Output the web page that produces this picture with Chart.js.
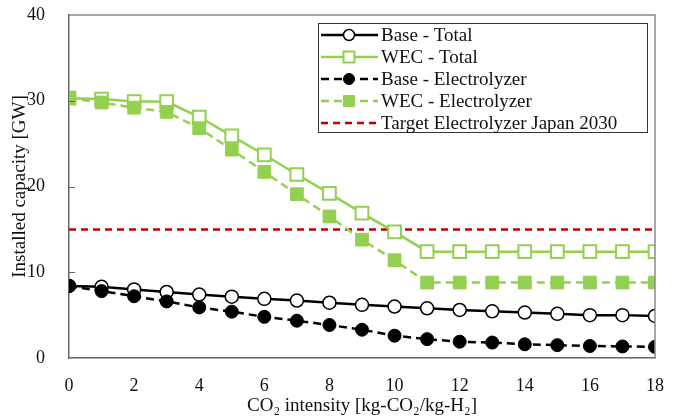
<!DOCTYPE html>
<html>
<head>
<meta charset="utf-8">
<script src="https://cdn.jsdelivr.net/npm/chart.js@4/dist/chart.umd.min.js"></script>
<style>
  body { margin: 0; background: #fff; }
  #wrap { width: 678px; height: 419px; }
</style>
</head>
<body>
<div id="wrap"><canvas id="capChart"></canvas></div>
<script>
// CO2 intensity [kg-CO2/kg-H2]
const intensity = [0, 1, 2, 3, 4, 5, 6, 7, 8, 9, 10, 11, 12, 13, 14, 15, 16, 17, 18];
const baseTotal = [8.4, 8.3, 8.0, 7.7, 7.4, 7.15, 6.9, 6.7, 6.45, 6.2, 6.0, 5.8, 5.6, 5.45, 5.3, 5.15, 5.0, 5.0, 4.9];
const wecTotal = [30.3, 30.2, 29.9, 29.9, 28.1, 25.9, 23.7, 21.4, 19.2, 16.9, 14.7, 12.4, 12.4, 12.4, 12.4, 12.4, 12.4, 12.4, 12.4];
const baseElec = [8.4, 7.8, 7.2, 6.6, 5.9, 5.4, 4.8, 4.35, 3.85, 3.3, 2.6, 2.2, 1.9, 1.8, 1.6, 1.5, 1.4, 1.35, 1.3];
const wecElec = [30.3, 29.8, 29.2, 28.7, 26.8, 24.3, 21.7, 19.1, 16.5, 13.8, 11.4, 8.8, 8.8, 8.8, 8.8, 8.8, 8.8, 8.8, 8.8];
const targetX = [0, 18];
const targetY = [15, 15];

const green = '#92D050';
const serif = '"Liberation Serif", "Times New Roman", serif';

function pts(xs, ys) {
    return xs.map((x, i) => ({ x: x, y: ys[i] }));
}

// frame, inner ticks and the boxed legend
const decor = {
    id: 'decor',
    afterDraw(chart) {
        const ctx = chart.ctx;
        const a = chart.chartArea;
        ctx.save();
        ctx.strokeStyle = '#8a8a8a';
        ctx.lineWidth = 1.5;
        ctx.beginPath();
        ctx.moveTo(a.left, a.top);
        ctx.lineTo(a.right, a.top);
        ctx.lineTo(a.right, a.bottom);
        ctx.stroke();

        const ys = chart.scales.y;
        ctx.strokeStyle = '#666';
        ctx.lineWidth = 1;
        [10, 20, 30].forEach(v => {
            const py = Math.round(ys.getPixelForValue(v)) + 0.5;
            ctx.beginPath();
            ctx.moveTo(a.left, py);
            ctx.lineTo(a.left + 6, py);
            ctx.stroke();
        });

        // legend
        const bx = 318, by = 23, bw = 329, bh = 109;
        ctx.fillStyle = '#fff';
        ctx.fillRect(bx, by, bw, bh);
        ctx.strokeStyle = '#333';
        ctx.lineWidth = 1;
        ctx.strokeRect(bx + 0.5, by + 0.5, bw, bh);
        ctx.font = '19px ' + serif;
        ctx.textBaseline = 'middle';
        chart.data.datasets.forEach((ds, i) => {
            const y = by + 12 + i * 22;
            ctx.strokeStyle = ds.borderColor;
            ctx.lineWidth = ds.borderWidth;
            ctx.setLineDash(ds.borderDash || []);
            ctx.beginPath();
            ctx.moveTo(bx + 3, y);
            ctx.lineTo(bx + 60, y);
            ctx.stroke();
            ctx.setLineDash([]);
            if (ds.pointRadius > 0) {
                ctx.fillStyle = ds.pointBackgroundColor;
                ctx.strokeStyle = ds.pointBorderColor;
                ctx.lineWidth = ds.pointBorderWidth;
                ctx.beginPath();
                if (ds.pointStyle === 'circle') {
                    ctx.arc(bx + 31, y, ds.legendRadius, 0, Math.PI * 2);
                } else {
                    const s = ds.legendRadius;
                    ctx.rect(bx + 31 - s, y - s, 2 * s, 2 * s);
                }
                ctx.fill();
                ctx.stroke();
            }
            ctx.fillStyle = '#111';
            ctx.fillText(ds.label, bx + 63, y + 1);
        });
        ctx.restore();
    }
};

const ctx = document.getElementById('capChart').getContext('2d');
new Chart(ctx, {
    type: 'line',
    data: {
        datasets: [{
            label: 'Base - Total',
            data: pts(intensity, baseTotal),
            borderColor: '#000',
            borderWidth: 2.5,
            pointStyle: 'circle',
            pointRadius: 6.5,
            legendRadius: 5.5,
            pointBackgroundColor: '#fff',
            pointBorderColor: '#000',
            pointBorderWidth: 1.5,
            order: 2
        }, {
            label: 'WEC - Total',
            data: pts(intensity, wecTotal),
            borderColor: green,
            borderWidth: 2.5,
            pointStyle: 'rect',
            pointRadius: 9,
            legendRadius: 5.5,
            pointBackgroundColor: '#fff',
            pointBorderColor: green,
            pointBorderWidth: 2,
            order: 2
        }, {
            label: 'Base - Electrolyzer',
            data: pts(intensity, baseElec),
            borderColor: '#000',
            borderWidth: 2.5,
            borderDash: [8, 5],
            pointStyle: 'circle',
            pointRadius: 6.5,
            legendRadius: 5.5,
            pointBackgroundColor: '#000',
            pointBorderColor: '#000',
            pointBorderWidth: 1,
            order: 1
        }, {
            label: 'WEC - Electrolyzer',
            data: pts(intensity, wecElec),
            borderColor: green,
            borderWidth: 2.5,
            borderDash: [8, 5],
            pointStyle: 'rect',
            pointRadius: 9,
            legendRadius: 5.5,
            pointBackgroundColor: green,
            pointBorderColor: green,
            pointBorderWidth: 1,
            order: 1
        }, {
            label: 'Target Electrolyzer Japan 2030',
            data: pts(targetX, targetY),
            borderColor: '#C00000',
            borderWidth: 2.5,
            borderDash: [7, 5],
            pointRadius: 0,
            order: 3
        }]
    },
    options: {
        responsive: true,
        maintainAspectRatio: false,
        animation: false,
        layout: { padding: { top: 15, right: 23, left: 0, bottom: 0 } },
        plugins: {
            legend: { display: false },
            tooltip: { enabled: false }
        },
        scales: {
            x: {
                type: 'linear',
                min: 0,
                max: 18,
                grid: { display: false },
                border: { color: '#666', width: 1.5 },
                ticks: {
                    stepSize: 2,
                    padding: 9,
                    color: '#111',
                    font: { family: serif, size: 18 }
                },
                title: {
                    display: true,
                    text: 'CO₂ intensity [kg-CO₂/kg-H₂]',
                    color: '#111',
                    font: { family: serif, size: 19 },
                    padding: { top: 2, bottom: 2 }
                },
                afterFit(scale) {
                    scale.height = 61;
                    scale.paddingLeft = 0;
                    scale.paddingRight = 0;
                }
            },
            y: {
                min: 0,
                max: 40,
                grid: { display: false },
                border: { color: '#666', width: 1.5 },
                ticks: {
                    stepSize: 10,
                    padding: 16,
                    color: '#111',
                    font: { family: serif, size: 18 }
                },
                title: {
                    display: true,
                    text: 'Installed capacity [GW]',
                    color: '#111',
                    font: { family: serif, size: 19 },
                    padding: { top: 9, bottom: 4 }
                },
                afterFit(scale) {
                    scale.width = 69;
                    scale.paddingTop = 0;
                    scale.paddingBottom = 0;
                }
            }
        }
    },
    plugins: [decor]
});
</script>
</body>
</html>
